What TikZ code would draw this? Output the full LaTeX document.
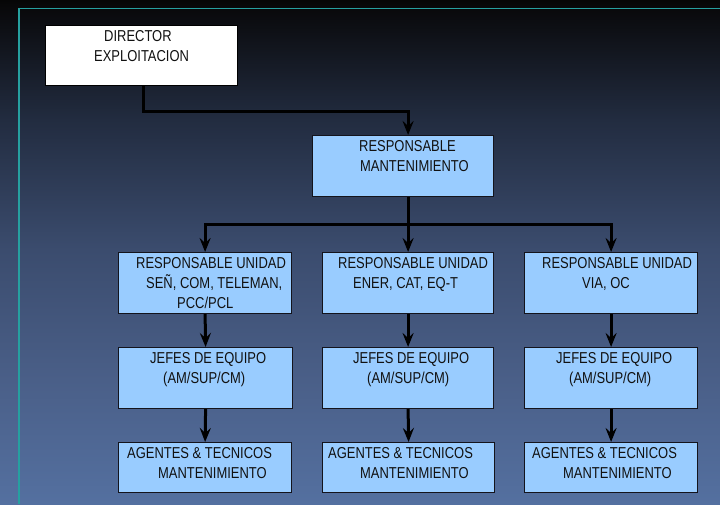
\documentclass[tikz,border=0pt]{standalone}
\usepackage{fontspec}
\setmainfont{Liberation Sans}[FakeStretch=0.82]
\usetikzlibrary{arrows.meta}
\definecolor{frameline}{RGB}{38,160,160}
\definecolor{boxfill}{RGB}{153,204,255}
\definecolor{boxline}{RGB}{20,20,28}
\definecolor{bgA}{RGB}{84,112,160}
\definecolor{bgB}{RGB}{74,95,136}
\definecolor{bgC}{RGB}{59,76,110}
\definecolor{bgD}{RGB}{34,44,64}
\definecolor{bgE}{RGB}{9,9,11}
\definecolor{bgF}{RGB}{6,6,6}
\pgfdeclareverticalshading{bgsh}{100bp}{color(0bp)=(bgA); color(25bp)=(bgA); color(37.3bp)=(bgB); color(50.2bp)=(bgC); color(63.1bp)=(bgD); color(74.2bp)=(bgE); color(75bp)=(bgF); color(100bp)=(bgF)}
\begin{document}
\begin{tikzpicture}[x=1pt,y=-1pt,
  box/.style={draw=boxline, line width=1.2pt, fill=boxfill, inner sep=0pt, anchor=north west},
  whitebox/.style={draw=black, line width=0.6pt, fill=white, inner sep=0pt, anchor=north west},
  txt/.style={anchor=north west, inner sep=0pt, align=left, font=\fontsize{15.8}{20}\selectfont, text={rgb,255:red,17;green,17;blue,17}},
  arr/.style={draw=black, line width=3pt, -{Stealth[length=14pt,width=11pt,inset=5pt]}},
  frm/.style={draw=frameline, line width=1.7pt}]
\useasboundingbox (0,0) rectangle (720,504);
\shade[shading=bgsh] (0,0) rectangle (720,504);
\draw[frm] (19,504) -- (19,8.5) -- (720,8.5);

% boxes
\node[whitebox, minimum width=192pt, minimum height=60pt] (d) at (45,25) {};
\node[box, minimum width=181pt, minimum height=61pt] (rm) at (312,135) {};
\node[box, minimum width=173pt, minimum height=61pt] (u1) at (118,252) {};
\node[box, minimum width=171pt, minimum height=61pt] (u2) at (322,252) {};
\node[box, minimum width=173pt, minimum height=61pt] (u3) at (524,252) {};
\node[box, minimum width=174pt, minimum height=61pt] (j1) at (118,347) {};
\node[box, minimum width=171pt, minimum height=61pt] (j2) at (322,347) {};
\node[box, minimum width=173pt, minimum height=61pt] (j3) at (524,347) {};
\node[box, minimum width=173pt, minimum height=50pt] (a1) at (118,442) {};
\node[box, minimum width=172pt, minimum height=50pt] (a2) at (322,442) {};
\node[box, minimum width=173pt, minimum height=50pt] (a3) at (524,442) {};

% texts
\node[txt] (dt) at (94,30.3) {\hspace*{10pt}DIRECTOR\\EXPLOITACION};
\node[txt] (rmt) at (359,140.3) {RESPONSABLE\\\hspace*{1pt}MANTENIMIENTO};
\node[txt] (u1t) at (136,257.3) {RESPONSABLE UNIDAD\\\hspace*{10pt}SEÑ, COM, TELEMAN,\\\hspace*{41pt}PCC/PCL};
\node[txt] (u2t) at (338,257.3) {RESPONSABLE UNIDAD\\\hspace*{15pt}ENER, CAT, EQ-T};
\node[txt] (u3t) at (542,257.3) {RESPONSABLE UNIDAD\\\hspace*{40pt}VIA, OC};
\node[txt] (j1t) at (150,352.3) {JEFES DE EQUIPO\\\hspace*{13pt}(AM/SUP/CM)};
\node[txt] (j2t) at (353,352.3) {JEFES DE EQUIPO\\\hspace*{14pt}(AM/SUP/CM)};
\node[txt] (j3t) at (556,352.3) {JEFES DE EQUIPO\\\hspace*{13pt}(AM/SUP/CM)};
\node[txt] (a1t) at (127,447.3) {AGENTES \& TECNICOS\\\hspace*{31pt}MANTENIMIENTO};
\node[txt] (a2t) at (328,447.3) {AGENTES \& TECNICOS\\\hspace*{32pt}MANTENIMIENTO};
\node[txt] (a3t) at (532,447.3) {AGENTES \& TECNICOS\\\hspace*{31pt}MANTENIMIENTO};

% connectors
\coordinate (dj) at (143,111);
\coordinate (bus) at (407.5,224);
\draw[arr] (d.south -| dj) -- (dj) -| (rm.north -| u2.north);
\draw[arr] (rm.south -| u2.north) -- (u2.north);
\draw[arr] (bus) -| (u1.north);
\draw[arr] (bus) -| (u3.north);
\draw[arr] (u1.south) -- (j1.north);
\draw[arr] (u2.south) -- (j2.north);
\draw[arr] (u3.south) -- (j3.north);
\draw[arr] (j1.south) -- (a1.north);
\draw[arr] (j2.south) -- (a2.north);
\draw[arr] (j3.south) -- (a3.north);
\end{tikzpicture}
\end{document}
